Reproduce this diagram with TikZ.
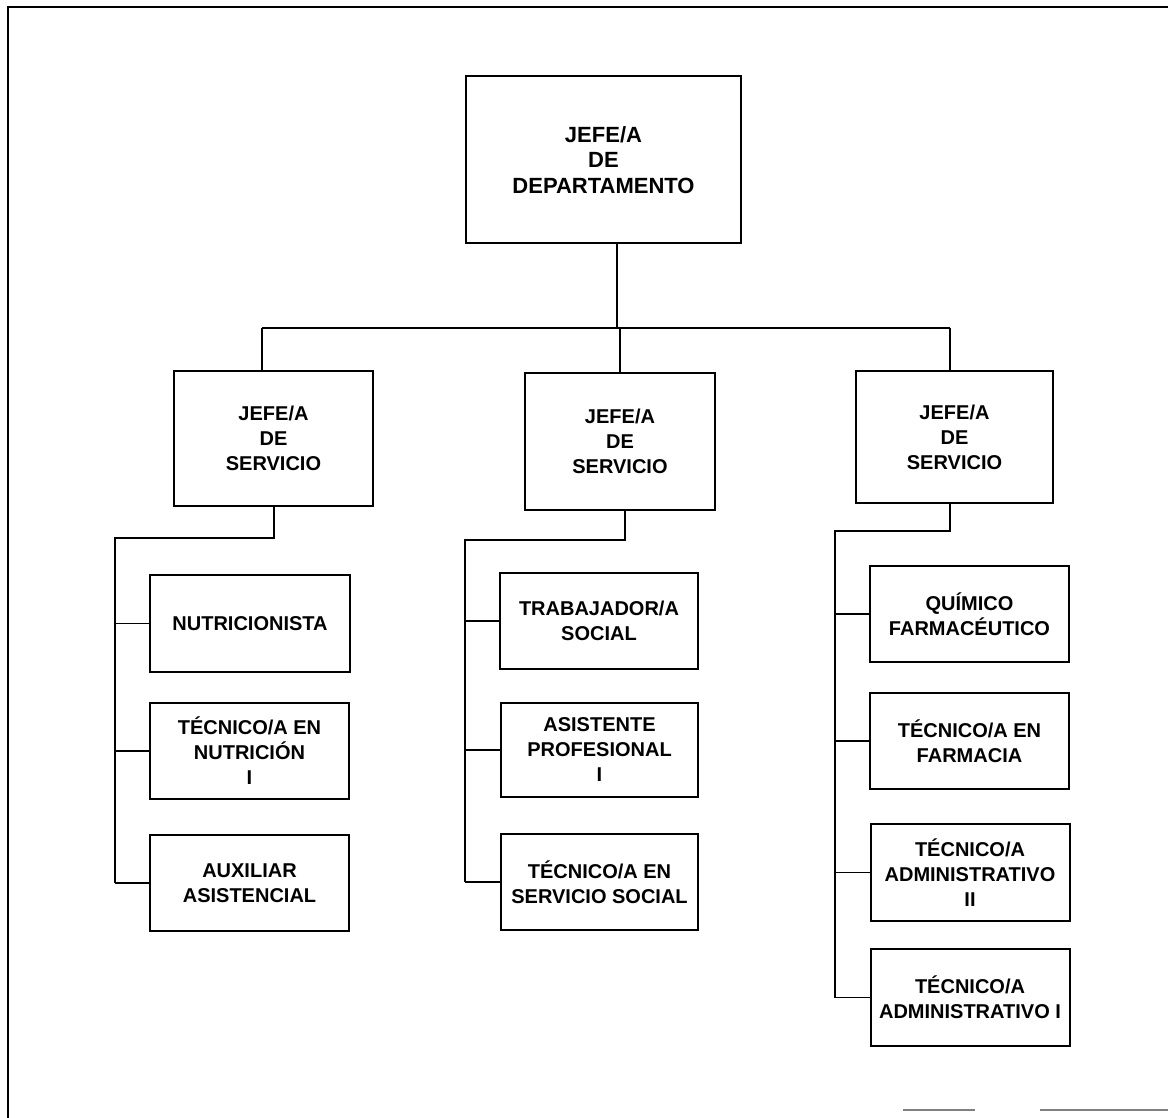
\documentclass[tikz,border=0pt]{standalone}
\usepackage{fontspec}
\setmainfont{Liberation Sans}
\newfontfamily\orgfont{Liberation Sans}
\begin{document}
\begin{tikzpicture}[x=1pt,y=-1pt,
  orgbox/.style={draw,line width=2pt,rectangle,inner sep=0pt,align=center,
    font=\orgfont\bfseries\fontsize{20}{25}\selectfont},
  bigtext/.style={font=\orgfont\bfseries\fontsize{22}{25.5}\selectfont},
  thickconn/.style={line width=2.2pt},
  thinconn/.style={line width=1.1pt},
  framel/.style={line width=2.4pt}]
\useasboundingbox (0,0) rectangle (1168,1118);
% frame
\draw[framel] (8,1118) -- (8,7) -- (1168,7);
\draw[gray,line width=1.4pt] (903,1110) -- (975,1110);
\draw[gray,line width=1.4pt] (1040,1110) -- (1168,1110);
% top box
\node[orgbox,bigtext,minimum width=275pt,minimum height=167pt] (top) at (603.5,160) {JEFE/A\\DE\\DEPARTAMENTO};
% service boxes
\node[orgbox,minimum width=199pt,minimum height=135pt] (s1) at (273.5,438.5) {JEFE/A\\DE\\SERVICIO};
\node[orgbox,minimum width=190pt,minimum height=137pt] (s2) at (620,441.5) {JEFE/A\\DE\\SERVICIO};
\node[orgbox,minimum width=197pt,minimum height=132pt] (s3) at (954.5,437) {JEFE/A\\DE\\SERVICIO};
% left group
\node[orgbox,minimum width=200pt,minimum height=97pt] (n1) at (250,623.5) {NUTRICIONISTA};
\node[orgbox,minimum width=199pt,minimum height=96pt] (n2) at (249.5,751) {TÉCNICO/A EN\\NUTRICIÓN\\I};
\node[orgbox,minimum width=199pt,minimum height=96pt] (n3) at (249.5,883) {AUXILIAR\\ASISTENCIAL};
% middle group
\node[orgbox,minimum width=198pt,minimum height=96pt] (m1) at (599,621) {TRABAJADOR/A\\SOCIAL};
\node[orgbox,minimum width=197pt,minimum height=94pt] (m2) at (599.5,750) {ASISTENTE\\PROFESIONAL\\I};
\node[orgbox,minimum width=197pt,minimum height=96pt] (m3) at (599.5,882) {TÉCNICO/A EN\\SERVICIO SOCIAL};
% right group
\node[orgbox,minimum width=199pt,minimum height=96pt] (r1) at (969.5,614) {QUÍMICO\\FARMACÉUTICO};
\node[orgbox,minimum width=199pt,minimum height=96pt] (r2) at (969.5,741) {TÉCNICO/A EN\\FARMACIA};
\node[orgbox,minimum width=199pt,minimum height=97pt] (r3) at (970,872.5) {TÉCNICO/A\\ADMINISTRATIVO\\II};
\node[orgbox,minimum width=199pt,minimum height=97pt] (r4) at (970,997.5) {TÉCNICO/A\\ADMINISTRATIVO I};
% top connectors
\coordinate (tdrop) at (617,243);
\coordinate (busm) at (617,328);
\coordinate (busl) at (262,328);
\coordinate (busc) at (620,328);
\coordinate (busr) at (950,328);
\draw[thickconn] (tdrop |- top.south) -- (busm);
\draw[thickconn] (busl) -- (busr);
\draw[thickconn] (busl) -- (busl |- s1.north);
\draw[thickconn] (busc) -- (busc |- s2.north);
\draw[thickconn] (busr) -- (busr |- s3.north);
% left group connectors
\coordinate (ld) at (274,538);
\coordinate (ls) at (115,538);
\draw[thinconn] (ld |- s1.south) -- (ld) -- (ls) -- (ls |- n3.west);
\draw[thinconn] (ls |- n1.west) -- (n1.west);
\draw[thinconn] (ls |- n2.west) -- (n2.west);
\draw[thinconn] (ls |- n3.west) -- (n3.west);
% middle group connectors
\coordinate (md) at (625,540);
\coordinate (ms) at (465,540);
\draw[thinconn] (md |- s2.south) -- (md) -- (ms) -- (ms |- m3.west);
\draw[thinconn] (ms |- m1.west) -- (m1.west);
\draw[thinconn] (ms |- m2.west) -- (m2.west);
\draw[thinconn] (ms |- m3.west) -- (m3.west);
% right group connectors
\coordinate (rd) at (950,531);
\coordinate (rs) at (835,531);
\draw[thinconn] (rd |- s3.south) -- (rd) -- (rs) -- (rs |- r4.west);
\draw[thinconn] (rs |- r1.west) -- (r1.west);
\draw[thinconn] (rs |- r2.west) -- (r2.west);
\draw[thinconn] (rs |- r3.west) -- (r3.west);
\draw[thinconn] (rs |- r4.west) -- (r4.west);
\end{tikzpicture}
\end{document}
